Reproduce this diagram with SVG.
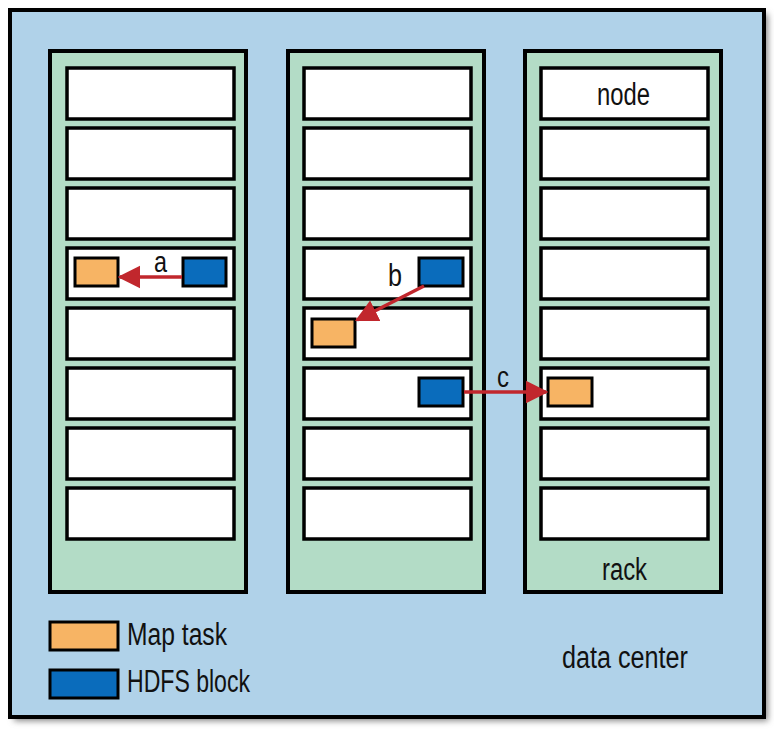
<svg xmlns="http://www.w3.org/2000/svg" width="774" height="732" viewBox="0 0 774 732">
<style>
.rack{fill:#b3dcc6;stroke:#000;stroke-width:4}
.node{fill:#fff;stroke:#000;stroke-width:3.5}
.map{fill:#f7b464;stroke:#000;stroke-width:3}
.hdfs{fill:#0a6cbc;stroke:#000;stroke-width:3}
.arr{stroke:#c1272d;stroke-width:3.5;fill:none}
text{font-family:"Liberation Sans",Arial,sans-serif;fill:#111}
</style>
<defs>
<marker id="ah" viewBox="0 0 10 10" refX="9" refY="5" markerWidth="6.5" markerHeight="7" markerUnits="strokeWidth" orient="auto"><path d="M0,0 L10,5 L0,10 z" fill="#c1272d"/></marker>
<filter id="sh" x="-5%" y="-5%" width="110%" height="110%"><feGaussianBlur stdDeviation="3"/></filter>
</defs>
<rect x="14" y="14" width="754" height="707" fill="#888" filter="url(#sh)"/>
<g id="datacenter"><rect x="10" y="10" width="754" height="707" fill="#b0d2e9" stroke="#000" stroke-width="4"/>
<text x="562" y="668" font-size="31" textLength="126" lengthAdjust="spacingAndGlyphs">data center</text></g>
<g id="rack1"><rect class="rack" x="50" y="51" width="196" height="541"/>
<rect class="node" x="67" y="68" width="167" height="51"/><rect class="node" x="67" y="128" width="167" height="51"/><rect class="node" x="67" y="188" width="167" height="51"/><rect class="node" x="67" y="248" width="167" height="51"/><rect class="node" x="67" y="308" width="167" height="51"/><rect class="node" x="67" y="368" width="167" height="51"/><rect class="node" x="67" y="428" width="167" height="51"/><rect class="node" x="67" y="488" width="167" height="51"/>
<rect class="map" x="75" y="258" width="43" height="28"/><rect class="hdfs" x="183" y="258" width="43" height="28"/></g>
<g id="rack2"><rect class="rack" x="288" y="51" width="196" height="541"/>
<rect class="node" x="304" y="68" width="167" height="51"/><rect class="node" x="304" y="128" width="167" height="51"/><rect class="node" x="304" y="188" width="167" height="51"/><rect class="node" x="304" y="248" width="167" height="51"/><rect class="node" x="304" y="308" width="167" height="51"/><rect class="node" x="304" y="368" width="167" height="51"/><rect class="node" x="304" y="428" width="167" height="51"/><rect class="node" x="304" y="488" width="167" height="51"/>
<rect class="hdfs" x="419" y="258" width="44" height="28"/><rect class="map" x="312" y="319" width="43" height="28"/><rect class="hdfs" x="419" y="378" width="44" height="28"/></g>
<g id="rack3"><rect class="rack" x="525" y="51" width="196" height="541"/>
<rect class="node" x="541" y="68" width="167" height="51"/><rect class="node" x="541" y="128" width="167" height="51"/><rect class="node" x="541" y="188" width="167" height="51"/><rect class="node" x="541" y="248" width="167" height="51"/><rect class="node" x="541" y="308" width="167" height="51"/><rect class="node" x="541" y="368" width="167" height="51"/><rect class="node" x="541" y="428" width="167" height="51"/><rect class="node" x="541" y="488" width="167" height="51"/>
<rect class="map" x="548" y="378" width="44" height="28"/>
<text x="597" y="105" font-size="31" textLength="53" lengthAdjust="spacingAndGlyphs">node</text>
<text x="602" y="580" font-size="31" textLength="45" lengthAdjust="spacingAndGlyphs">rack</text></g>
<g id="connectors">
<line class="arr" x1="182" y1="277" x2="120" y2="277" marker-end="url(#ah)"/>
<text x="154" y="272" font-size="29" textLength="13" lengthAdjust="spacingAndGlyphs">a</text>
<line class="arr" x1="424" y1="286" x2="357" y2="320" marker-end="url(#ah)"/>
<text x="388" y="286" font-size="31" textLength="14" lengthAdjust="spacingAndGlyphs">b</text>
<line class="arr" x1="464" y1="392" x2="546" y2="392" marker-end="url(#ah)"/>
<text x="497" y="387" font-size="29" textLength="12" lengthAdjust="spacingAndGlyphs">c</text>
</g>
<g id="legend">
<rect class="map" x="50" y="622" width="68" height="28"/><text x="127" y="645" font-size="31" textLength="100" lengthAdjust="spacingAndGlyphs">Map task</text>
<rect class="hdfs" x="50" y="670" width="68" height="28"/><text x="127" y="692" font-size="31" textLength="123" lengthAdjust="spacingAndGlyphs">HDFS block</text>
</g>
</svg>
